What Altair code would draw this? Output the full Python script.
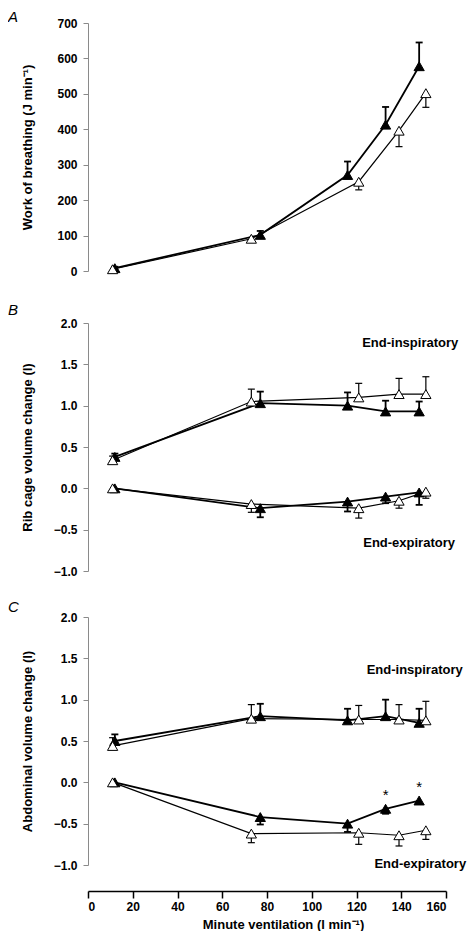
import altair as alt
import pandas as pd

# Minute ventilation (l/min) for the two conditions
vent_filled = [12, 77, 116, 133, 148]
vent_open = [11, 73, 121, 139, 151]

# Panel A: work of breathing (J/min)
wob_filled = [8, 102, 271, 413, 578]
wob_filled_sd = [4, 11, 38, 50, 67]
wob_open = [5, 91, 252, 396, 502]
wob_open_sd = [0, 5, 23, 45, 40]

# Panel B: rib cage volume change (l)
rc_insp_filled = [0.38, 1.03, 1.00, 0.93, 0.93]
rc_insp_filled_sd = [0.04, 0.14, 0.16, 0.13, 0.12]
rc_insp_open = [0.34, 1.05, 1.10, 1.14, 1.14]
rc_insp_open_sd = [0.05, 0.15, 0.17, 0.19, 0.21]
rc_exp_filled = [0.0, -0.24, -0.16, -0.10, -0.05]
rc_exp_filled_sd = [0.0, 0.11, 0.12, 0.08, 0.15]
rc_exp_open = [0.0, -0.19, -0.24, -0.15, -0.04]
rc_exp_open_sd = [0.0, 0.10, 0.12, 0.09, 0.08]

# Panel C: abdominal volume change (l)
ab_insp_filled = [0.50, 0.80, 0.75, 0.80, 0.72]
ab_insp_filled_sd = [0.08, 0.15, 0.14, 0.20, 0.17]
ab_insp_open = [0.44, 0.77, 0.76, 0.76, 0.75]
ab_insp_open_sd = [0.10, 0.17, 0.17, 0.18, 0.23]
ab_exp_filled = [0.0, -0.42, -0.50, -0.32, -0.22]
ab_exp_filled_sd = [0.0, 0.09, 0.10, 0.06, 0.0]
ab_exp_open = [0.0, -0.62, -0.61, -0.64, -0.58]
ab_exp_open_sd = [0.0, 0.11, 0.14, 0.13, 0.11]
ab_significant = [3, 4]  # indices of filled end-expiratory points marked *

label_texts = ["End-inspiratory", "End-expiratory"]
rc_label_x = [144, 143.5]
rc_label_y = [1.76, -0.66]
ab_label_x = [146, 148.5]
ab_label_y = [1.36, -0.99]

vol_ticks = [-1.0, -0.5, 0.0, 0.5, 1.0, 1.5, 2.0]
wob_ticks = [0, 100, 200, 300, 400, 500, 600, 700]
x_ticks = [0, 20, 40, 60, 80, 100, 120, 140, 160]

FONT = "Liberation Sans"
W, H = 358, 248


def build(entries):
    rows = []
    for series, phase, vals, sds, direction in entries:
        xs = vent_filled if series == "filled" else vent_open
        for i, (x, v, s) in enumerate(zip(xs, vals, sds)):
            rows.append(dict(x=x, y=v, end=v + direction * s, err=s,
                             series=series, grp=series + phase, idx=i))
    return pd.DataFrame(rows)


def x_enc(show):
    if show:
        ax = alt.Axis(values=x_ticks, title="Minute  ventilation (l min\u207b\u00b9)",
                      offset=26, domainColor="black", domainWidth=1.5,
                      tickColor="black", tickWidth=1.5, tickSize=7,
                      labelPadding=3, titlePadding=6, titleX=195, titleAlign="center")
    else:
        ax = None
    return alt.X("x:Q", scale=alt.Scale(domain=[0, 160], nice=False), axis=ax)


def panel(df, dom, ticks, fmt, title, letter, letter_y, show_x, labels=None, stars=None):
    yscale = alt.Scale(domain=dom, nice=False, zero=False)
    yaxis = alt.Axis(values=ticks, format=fmt, title=title, titleX=-61, titleY=H / 2,
                     titleBaseline="middle", titleAlign="center")
    sw = alt.StrokeWidth("series:N", scale=alt.Scale(domain=["filled", "open"], range=[1.8, 1.2]),
                         legend=None)
    base = alt.Chart(df).encode(x=x_enc(show_x))
    yv = alt.Y("y:Q", scale=yscale, axis=yaxis)
    err = df[df["err"] > 0]
    ebase = alt.Chart(err).encode(x=x_enc(show_x))
    stems = ebase.mark_rule(color="black").encode(
        y=alt.Y("y:Q", scale=yscale, axis=yaxis), y2="end:Q", strokeWidth=sw)
    caps = ebase.mark_point(shape="M-1,0L1,0", size=49, color="black", filled=False, opacity=1).encode(
        y=alt.Y("end:Q", scale=yscale, axis=yaxis), strokeWidth=sw)
    lines = base.mark_line(color="black").encode(y=yv, detail="grp:N", strokeWidth=sw)
    pts = base.mark_point(shape="triangle-up", size=105, filled=True, stroke="black",
                          strokeWidth=1, opacity=1).encode(
        y=yv,
        fill=alt.Fill("series:N", scale=alt.Scale(domain=["filled", "open"], range=["black", "white"]),
                      legend=None))
    layers = [stems, caps, lines, pts]
    if stars is not None:
        sdf = df[(df["series"] == "filled") & (df["grp"] == "filledexp") & (df["idx"].isin(stars))]
        layers.append(alt.Chart(sdf).mark_text(text="*", fontSize=15, dy=-14, font=FONT, color="black")
                      .encode(x=x_enc(show_x), y=alt.Y("y:Q", scale=yscale, axis=yaxis)))
    if labels is not None:
        layers.append(alt.Chart(labels).mark_text(font=FONT, fontWeight="bold", fontSize=13,
                                                  color="black", baseline="middle")
                      .encode(x=x_enc(show_x), y=alt.Y("y:Q", scale=yscale, axis=yaxis), text="t:N"))
    layers.append(alt.Chart(pd.DataFrame({"t": [letter]})).mark_text(
        font=FONT, fontSize=15, fontStyle="italic", align="left", baseline="top", color="black")
        .encode(x=alt.value(-80), y=alt.value(letter_y), text="t:N"))
    return alt.layer(*layers).properties(width=W, height=H)


dfA = build([
    ("filled", "w", wob_filled, wob_filled_sd, 1),
    ("open", "w", wob_open, wob_open_sd, -1),
])
dfB = build([
    ("filled", "insp", rc_insp_filled, rc_insp_filled_sd, 1),
    ("open", "insp", rc_insp_open, rc_insp_open_sd, 1),
    ("filled", "exp", rc_exp_filled, rc_exp_filled_sd, -1),
    ("open", "exp", rc_exp_open, rc_exp_open_sd, -1),
])
dfC = build([
    ("filled", "insp", ab_insp_filled, ab_insp_filled_sd, 1),
    ("open", "insp", ab_insp_open, ab_insp_open_sd, 1),
    ("filled", "exp", ab_exp_filled, ab_exp_filled_sd, -1),
    ("open", "exp", ab_exp_open, ab_exp_open_sd, -1),
])
labB = pd.DataFrame({"x": rc_label_x, "y": rc_label_y, "t": label_texts})
labC = pd.DataFrame({"x": ab_label_x, "y": ab_label_y, "t": label_texts})

A = panel(dfA, [0, 700], wob_ticks, "d", "Work  of  breathing (J min\u207b\u00b9)", "A", -13, False)
B = panel(dfB, [-1, 2], vol_ticks, ".1f", "Rib cage volume change (l)", "B", -20, False, labels=labB)
C = panel(dfC, [-1, 2], vol_ticks, ".1f", "Abdominal volume change (l)", "C", -17, True,
          labels=labC, stars=ab_significant)

chart = alt.vconcat(
    A,
    alt.vconcat(B, C, spacing=46, bounds="flush"),
    spacing=52, bounds="flush",
).properties(
    padding={"left": 0, "top": 2, "right": 0, "bottom": 0}
).configure_view(stroke=None).configure_axis(
    grid=False,
    labelFont=FONT, labelFontWeight="bold", labelFontSize=12, labelColor="black",
    titleFont=FONT, titleFontWeight="bold", titleFontSize=13, titleColor="black",
    domainColor="#8a8a8a", tickColor="#8a8a8a", tickSize=5, labelPadding=6,
)

chart.save("out.html", embed_options={"renderer": "svg", "actions": False})
